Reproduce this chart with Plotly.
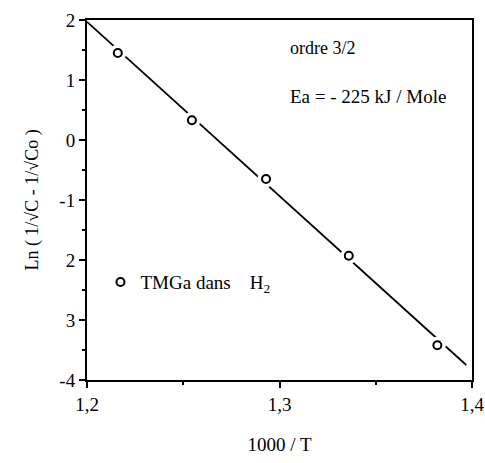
import plotly.graph_objects as go

# data
inv_T = [1.216, 1.2545, 1.293, 1.336, 1.382]
ln_val = [1.45, 0.33, -0.65, -1.93, -3.42]
fit_x = [1.2, 1.397]
fit_y = [1.97, -3.75]
x_ticks = [1.2, 1.3, 1.4]
x_tick_text = ["1,2", "1,3", "1,4"]
y_ticks = [2, 1, 0, -1, -2, -3, -4]
y_tick_text = ["2", "1", "0", "-1", "2", "3", "-4"]

FONT = "Liberation Serif"

fig = go.Figure()
fig.add_trace(go.Scatter(x=fit_x, y=fit_y, mode="lines",
                         line=dict(color="black", width=1.8), showlegend=False))
fig.add_trace(go.Scatter(x=inv_T, y=ln_val, mode="markers",
                         marker=dict(symbol="circle", size=17, color="white"),
                         showlegend=False, hoverinfo="skip"))
fig.add_trace(go.Scatter(x=inv_T, y=ln_val, mode="markers",
                         name="TMGa dans    H<sub>2</sub>",
                         marker=dict(symbol="circle-open", size=8,
                                     color="black", line=dict(width=2, color="black"))))

ann_x = 1.2 + 0.2 * (288 - 87) / 385
fig.add_annotation(x=ann_x, y=2 - (48 - 20) / 60,
                   xref="x", yref="y", text="ordre 3/2", showarrow=False,
                   xanchor="left", yanchor="middle",
                   font=dict(family=FONT, size=18, color="black"))
fig.add_annotation(x=ann_x, y=2 - (96 - 20) / 60,
                   xref="x", yref="y", text="Ea = - 225 kJ / Mole", showarrow=False,
                   xanchor="left", yanchor="middle",
                   font=dict(family=FONT, size=19, color="black"))

fig.update_layout(
    width=485, height=463,
    margin=dict(l=87, r=13, t=20, b=83),
    paper_bgcolor="white", plot_bgcolor="white",
    font=dict(family=FONT, size=19, color="black"),
    legend=dict(x=0.035, y=0.272, xanchor="left", yanchor="middle",
                bgcolor="rgba(0,0,0,0)", font=dict(family=FONT, size=19, color="black")),
)
fig.update_xaxes(range=[1.2, 1.4], tickvals=x_ticks, ticktext=x_tick_text,
                 automargin=False, ticklabeloverflow="allow",
                 tickfont=dict(family=FONT, size=19, color="black"),
                 showgrid=False, zeroline=False, showline=True, linecolor="black",
                 linewidth=2, mirror=True, ticks="outside", ticklen=6,
                 tickwidth=1.5, tickcolor="black",
                 minor=dict(dtick=0.05, ticks="outside", ticklen=3, tickcolor="black"),
                 title=dict(text="1000 / T", font=dict(family=FONT, size=19, color="black"), standoff=24))
fig.update_yaxes(range=[-4, 2], tickvals=y_ticks, ticktext=y_tick_text,
                 automargin=False,
                 tickfont=dict(family=FONT, size=19, color="black"),
                 showgrid=False, zeroline=False, showline=True, linecolor="black",
                 linewidth=2, mirror=True, ticks="outside", ticklen=6,
                 tickwidth=1.5, tickcolor="black",
                 minor=dict(dtick=0.5, ticks="outside", ticklen=3, tickcolor="black"),
                 title=dict(text="Ln ( 1/√C - 1/√Co )", font=dict(family=FONT, size=18, color="black"), standoff=16))

fig.write_html("out.html", config={"displayModeBar": False},
               post_script="document.body.style.margin='0';document.body.style.overflow='hidden';")
